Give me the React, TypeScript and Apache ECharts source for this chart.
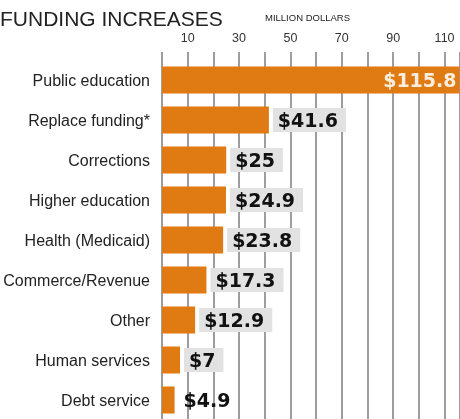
import React, { useEffect, useRef } from "react";
import * as echarts from "echarts";

const categories = [
  "Public education",
  "Replace funding*",
  "Corrections",
  "Higher education",
  "Health (Medicaid)",
  "Commerce/Revenue",
  "Other",
  "Human services",
  "Debt service",
];
const values = [115.8, 41.6, 25, 24.9, 23.8, 17.3, 12.9, 7, 4.9];
const valueLabels = ["$115.8", "$41.6", "$25", "$24.9", "$23.8", "$17.3", "$12.9", "$7", "$4.9"];
const shadedLabel = [false, true, true, true, true, true, true, true, false];

const ORANGE = "#E07A12";
const GRID = "#7d7d7d";
const SANS = '"Liberation Sans", Arial, sans-serif';

export default function App() {
  const ref = useRef<HTMLDivElement>(null);
  useEffect(() => {
    if (!ref.current) return;
    const chart = echarts.init(ref.current, null, { renderer: "svg" });
    const data = values.map((v, i) => {
      if (i === 0) {
        return {
          value: v,
          label: {
            show: true,
            position: "insideRight",
            distance: 3,
            color: "#fbeede",
            formatter: valueLabels[i],
          },
        };
      }
      return {
        value: v,
        label: {
          show: true,
          position: "right",
          distance: 4,
          color: "#111",
          backgroundColor: shadedLabel[i] ? "#e2e2e2" : "transparent",
          padding: [3, 8, 2, 5],
          formatter: valueLabels[i],
        },
      };
    });
    chart.setOption({
      animation: false,
      grid: {
        left: 162,
        right: 0,
        top: 60,
        bottom: -1,
        containLabel: false,
        outerBoundsMode: "none",
      },
      xAxis: {
        type: "value",
        position: "top",
        min: 0,
        max: 116,
        interval: 10,
        axisLine: { show: false },
        axisTick: { show: true, length: 8, lineStyle: { color: GRID, width: 1.5 } },
        splitLine: { show: true, lineStyle: { color: GRID, width: 1.5 } },
        axisLabel: {
          margin: 16,
          fontFamily: SANS,
          fontSize: 12.5,
          color: "#333",
          formatter: (v: number) => (v % 20 === 10 ? String(v) : ""),
        },
      },
      yAxis: {
        type: "category",
        inverse: true,
        data: categories,
        axisLine: { show: false },
        axisTick: { show: false },
        axisLabel: {
          margin: 12,
          fontFamily: SANS,
          fontSize: 16,
          color: "#222",
        },
      },
      series: [
        {
          type: "bar",
          data,
          barWidth: 27,
          itemStyle: { color: ORANGE },
          label: {
            fontFamily: '"DejaVu Sans", sans-serif',
            fontWeight: "bold",
            fontSize: 19,
          },
        },
      ],
      graphic: [
        {
          type: "text",
          left: 0,
          top: 8,
          style: {
            text: "FUNDING INCREASES",
            fontFamily: SANS,
            fontSize: 21,
            fill: "#222",
          },
        },
        {
          type: "text",
          left: 265,
          top: 12,
          style: {
            text: "MILLION DOLLARS",
            fontFamily: SANS,
            fontSize: 9.5,
            fill: "#222",
          },
        },
      ],
    });
    return () => chart.dispose();
  }, []);
  return (
    <div
      ref={ref}
      style={{ position: "fixed", left: 0, top: 0, width: 460, height: 419 }}
    />
  );
}
